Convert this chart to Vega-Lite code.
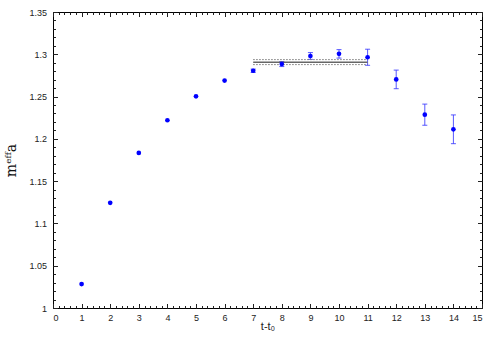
{
  "$schema": "https://vega.github.io/schema/vega-lite/v6.json",
  "width": 429,
  "height": 296,
  "autosize": "none",
  "padding": {"left": 53, "top": 12, "right": 18, "bottom": 42},
  "background": "white",
  "config": {
    "view": {"stroke": "black", "strokeWidth": 1},
    "axis": {
      "grid": false,
      "domain": false,
      "labelFont": "Liberation Sans",
      "labelFontSize": 9,
      "labelColor": "#222",
      "tickColor": "#222",
      "tickWidth": 1
    }
  },
  "datasets": {
    "pts": [
      {"t": 1, "m": 1.0283, "lo": 1.0283, "hi": 1.0283},
      {"t": 2, "m": 1.1244, "lo": 1.1244, "hi": 1.1244},
      {"t": 3, "m": 1.1834, "lo": 1.1834, "hi": 1.1834},
      {"t": 4, "m": 1.222, "lo": 1.222, "hi": 1.222},
      {"t": 5, "m": 1.2503, "lo": 1.2503, "hi": 1.2503},
      {"t": 6, "m": 1.2689, "lo": 1.2689, "hi": 1.2689},
      {"t": 7, "m": 1.2805, "lo": 1.2785, "hi": 1.2825},
      {"t": 8, "m": 1.2885, "lo": 1.2855, "hi": 1.2915},
      {"t": 9, "m": 1.298, "lo": 1.294, "hi": 1.302},
      {"t": 10, "m": 1.3005, "lo": 1.2955, "hi": 1.3055},
      {"t": 11, "m": 1.2965, "lo": 1.287, "hi": 1.306},
      {"t": 12, "m": 1.2703, "lo": 1.2593, "hi": 1.2813},
      {"t": 13, "m": 1.2286, "lo": 1.2161, "hi": 1.2411},
      {"t": 14, "m": 1.2113, "lo": 1.1943, "hi": 1.2283}
    ],
    "fit": [
      {"t": 7, "c": 1.2907, "up": 1.2937, "dn": 1.2878},
      {"t": 11, "c": 1.2907, "up": 1.2937, "dn": 1.2878}
    ]
  },
  "resolve": {"axis": {"x": "independent", "y": "independent"}},
  "layer": [
    {
      "data": {"name": "pts"},
      "mark": {"type": "rule", "color": "#3a3aff", "strokeWidth": 1, "opacity": 0.85},
      "encoding": {
        "x": {"field": "t", "type": "quantitative",
          "scale": {"domain": [0, 15], "nice": false, "zero": false},
          "axis": {"orient": "bottom", "values": [0,1,2,3,4,5,6,7,8,9,10,11,12,13,14,15],
            "tickSize": -4.5, "labelPadding": 10, "title": "t-t₀",
            "titleFont": "Liberation Sans", "titleFontSize": 11, "titleFontWeight": "normal", "titlePadding": -2, "titleColor": "#222"}},
        "y": {"field": "lo", "type": "quantitative",
          "scale": {"domain": [1, 1.35], "nice": false, "zero": false},
          "axis": {"orient": "left", "values": [1, 1.05, 1.1, 1.15, 1.2, 1.25, 1.3, 1.35], "format": "~g",
            "tickSize": -4.5, "labelPadding": 11, "title": "mᵉᶠᶠa",
            "titleFont": "DejaVu Serif", "titleFontSize": 14, "titleFontWeight": "normal", "titlePadding": 10, "titleColor": "#111"}},
        "y2": {"field": "hi"}
      }
    },
    {
      "data": {"name": "pts"},
      "transform": [{"filter": "datum.t >= 7"}],
      "mark": {"type": "tick", "orient": "horizontal", "color": "#3a3aff", "opacity": 0.85, "size": 5, "thickness": 1},
      "encoding": {
        "x": {"field": "t", "type": "quantitative",
          "axis": {"orient": "top", "values": [0,1,2,3,4,5,6,7,8,9,10,11,12,13,14,15],
            "tickSize": -4.5, "labels": false, "title": null}},
        "y": {"field": "lo", "type": "quantitative",
          "axis": {"orient": "right", "values": [1, 1.05, 1.1, 1.15, 1.2, 1.25, 1.3, 1.35],
            "tickSize": -4.5, "labels": false, "title": null}}
      }
    },
    {
      "data": {"name": "pts"},
      "transform": [{"filter": "datum.t >= 7"}],
      "mark": {"type": "tick", "orient": "horizontal", "color": "#3a3aff", "opacity": 0.85, "size": 5, "thickness": 1},
      "encoding": {
        "x": {"field": "t", "type": "quantitative",
          "axis": {"orient": "bottom", "tickCount": 75, "tickSize": -2.5, "labels": false, "title": null}},
        "y": {"field": "hi", "type": "quantitative",
          "axis": {"orient": "left", "tickCount": 35, "tickSize": -2.5, "labels": false, "title": null}}
      }
    },
    {
      "data": {"name": "fit"},
      "mark": {"type": "line", "color": "#666", "strokeWidth": 1.5},
      "encoding": {
        "x": {"field": "t", "type": "quantitative",
          "axis": {"orient": "top", "tickCount": 75, "tickSize": -2.5, "labels": false, "title": null}},
        "y": {"field": "c", "type": "quantitative",
          "axis": {"orient": "right", "tickCount": 35, "tickSize": -2.5, "labels": false, "title": null}}
      }
    },
    {
      "data": {"name": "fit"},
      "mark": {"type": "line", "color": "#777", "strokeWidth": 1, "strokeDash": [1.5, 1.5]},
      "encoding": {
        "x": {"field": "t", "type": "quantitative", "axis": null},
        "y": {"field": "up", "type": "quantitative", "axis": null}
      }
    },
    {
      "data": {"name": "fit"},
      "mark": {"type": "line", "color": "#777", "strokeWidth": 1, "strokeDash": [1.5, 1.5]},
      "encoding": {
        "x": {"field": "t", "type": "quantitative", "axis": null},
        "y": {"field": "dn", "type": "quantitative", "axis": null}
      }
    },
    {
      "data": {"name": "pts"},
      "mark": {"type": "point", "shape": "circle", "filled": true, "color": "#0000ff", "size": 22, "opacity": 1},
      "encoding": {
        "x": {"field": "t", "type": "quantitative", "axis": null},
        "y": {"field": "m", "type": "quantitative", "axis": null}
      }
    }
  ]
}
